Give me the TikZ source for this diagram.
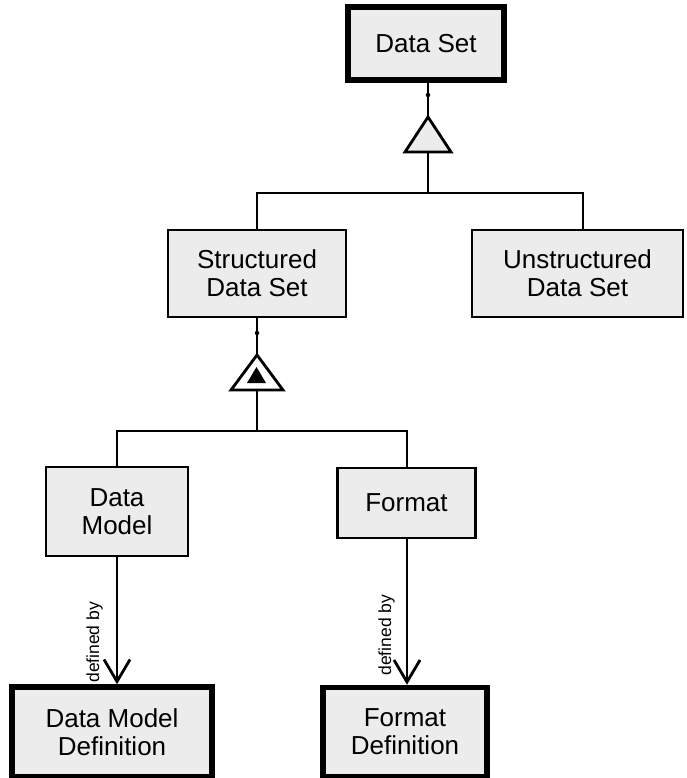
\documentclass[tikz,border=0pt]{standalone}
\usepackage{fontspec}
\setmainfont{Liberation Sans}
\usetikzlibrary{arrows.meta}
\definecolor{boxgray}{HTML}{ECECEC}
\tikzset{
  box/.style={draw, fill=boxgray, line width=2.3pt, align=center, inner sep=0pt,
    font=\fontsize{26}{28}\selectfont},
  thickbox/.style={box, line width=5.5pt},
  link/.style={draw, line width=2.8pt},
  port/.style={circle, fill=black, inner sep=0pt, minimum size=4.5pt},
  lbl/.style={font=\fontsize{17.5}{19}\selectfont, inner sep=0pt, anchor=base},
  defarrow/.style={link, -{Straight Barb[length=22pt, width=26pt, line width=2.8pt]}}
}
\begin{document}
\begin{tikzpicture}[x=1pt, y=-1pt]
\useasboundingbox (0,0) rectangle (686,778);

% classes
\node[thickbox, minimum width=156pt, minimum height=73pt] (ds)  at (426,43.5) {Data Set};
\node[box, minimum width=178pt, minimum height=87pt] (sds) at (257,273.5) {Structured\\Data Set};
\node[box, minimum width=211pt, minimum height=87pt] (uds) at (577.5,273.5) {Unstructured\\Data Set};
\node[box, minimum width=142pt, minimum height=89pt] (dm)  at (117,511.5) {Data\\Model};
\node[box, minimum width=138pt, minimum height=70pt] (fmt) at (406.5,503) {Format};
\node[thickbox, minimum width=200pt, minimum height=90pt] (dmd) at (112,732) {Data Model\\Definition};
\node[thickbox, minimum width=164pt, minimum height=89pt] (fd)  at (405,732) {Format\\Definition};

% generalisation of Data Set
\coordinate (t1a) at (428,117);
\coordinate (t1b) at (428,152);
\coordinate (j1)  at (428,193);
\node[port] (p1) at (428,95) {};
\draw[link] (ds.south -| t1a) -- (p1) -- (t1a);
\draw[line width=2.8pt, fill=boxgray, line join=miter] (405,152) -- (t1a) -- (451,152) -- cycle;
\draw[link] (t1b) -- (j1);
\draw[link] (sds.north) |- (j1) -| (uds.north -| 583,0);

% specialisation of Structured Data Set
\coordinate (t2a) at (257,355);
\coordinate (t2b) at (257,390);
\coordinate (j2)  at (257,431);
\node[port] (p2) at (257,333) {};
\draw[link] (sds.south) -- (p2) -- (t2a);
\draw[line width=2.8pt, fill=white, line join=miter] (231,390) -- (t2a) -- (283,390) -- cycle;
\fill[black] (247,383) -- (256.5,367) -- (266,383) -- cycle;
\draw[link] (t2b) -- (j2);
\draw[link] (dm.north) |- (j2) -| (fmt.north -| 407,0);

% definitions
\draw[defarrow] (dm.south) -- node[pos=0.67, xshift=-18pt, rotate=90, lbl] {defined by} (dmd.north -| dm.south);
\draw[defarrow] (fmt.south -| 407,0) -- node[pos=0.66, xshift=-16pt, rotate=90, lbl] {defined by} (fd.north -| 407,0);
\end{tikzpicture}
\end{document}
